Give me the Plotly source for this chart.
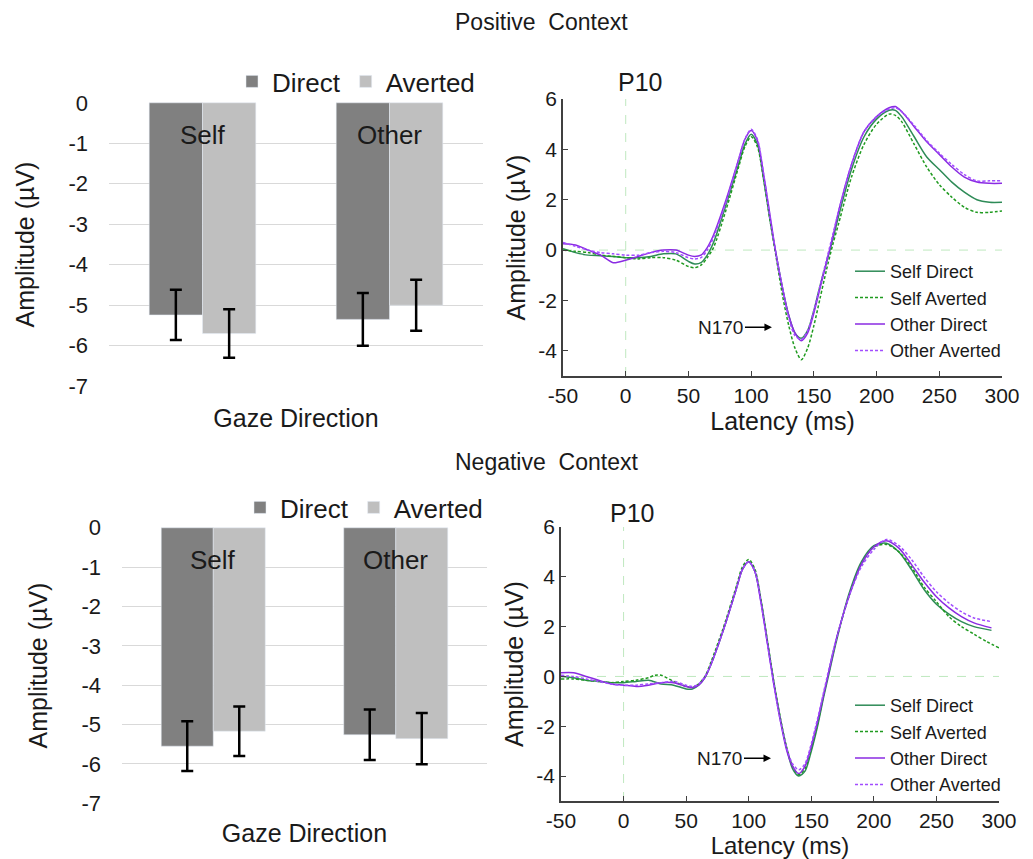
import plotly.graph_objects as go

# ---------------- Bar data ----------------
gaze_groups = ["Self", "Other"]
pos_direct = [-5.24, -5.35]
pos_direct_err = [0.62, 0.65]
pos_averted = [-5.70, -5.00]
pos_averted_err = [0.60, 0.63]

neg_direct = [-5.55, -5.26]
neg_direct_err = [0.63, 0.64]
neg_averted = [-5.17, -5.36]
neg_averted_err = [0.63, 0.65]

bar_tick_vals = [0, -1, -2, -3, -4, -5, -6, -7]
bar_tick_text = ["0", "-1", "-2", "-3", "-4", "-5", "-6", "-7"]
erp_x_tick_vals = [-50, 0, 50, 100, 150, 200, 250, 300]
erp_x_tick_text = ["-50", "0", "50", "100", "150", "200", "250", "300"]
erp_y_tick_vals = [-4, -2, 0, 2, 4, 6]
erp_y_tick_text = ["-4", "-2", "0", "2", "4", "6"]

# ---------------- ERP data (Positive context) ----------------
lat_a = [-50, -40, -30, -20, -10, 0, 10, 20, 30, 40, 50, 55, 60, 65, 70, 80, 90, 95, 100, 105,
         110, 115, 120, 125, 130, 135, 140, 145, 150, 155, 160, 165, 170, 180, 190, 200, 210,
         215, 220, 230, 240, 250, 260, 270, 280, 290, 300]
pos_self_direct = [0.05, -0.1, -0.2, -0.22, -0.25, -0.3, -0.3, -0.25, -0.15, -0.15, -0.45, -0.55,
                   -0.5, -0.2, 0.3, 1.8, 3.4, 4.2, 4.6, 4.2, 2.8, 1.2, -0.2, -1.5, -2.6, -3.3,
                   -3.5, -3.2, -2.4, -1.4, -0.5, 0.4, 1.4, 3.2, 4.5, 5.2, 5.55, 5.55, 5.3, 4.5,
                   3.7, 3.2, 2.7, 2.3, 2.0, 1.9, 1.9]
pos_self_averted = [0.0, -0.05, -0.1, -0.2, -0.25, -0.3, -0.35, -0.3, -0.3, -0.4, -0.65, -0.7,
                    -0.6, -0.3, 0.1, 1.6, 3.3, 4.1, 4.5, 4.1, 2.8, 1.2, -0.3, -1.8, -3.0, -3.9,
                    -4.35, -3.9, -3.0, -1.9, -0.8, 0.2, 1.1, 2.9, 4.2, 5.0, 5.4, 5.35, 5.1, 4.2,
                    3.3, 2.6, 2.1, 1.7, 1.5, 1.5, 1.55]
pos_other_direct = [0.25, 0.2, 0.0, -0.2, -0.5, -0.4, -0.25, -0.1, 0.0, 0.0, -0.2, -0.25,
                    -0.2, 0.1, 0.6, 2.0, 3.6, 4.4, 4.75, 4.35, 3.0, 1.4, -0.2, -1.5, -2.6, -3.3,
                    -3.6, -3.3, -2.5, -1.5, -0.5, 0.5, 1.6, 3.4, 4.7, 5.3, 5.65, 5.7, 5.5, 4.9,
                    4.3, 3.8, 3.3, 2.9, 2.7, 2.65, 2.65]
pos_other_averted = [0.3, 0.15, 0.0, -0.1, -0.15, -0.2, -0.2, -0.1, -0.05, -0.1, -0.3, -0.35,
                     -0.3, 0.0, 0.5, 1.9, 3.6, 4.4, 4.8, 4.4, 3.0, 1.3, -0.2, -1.5, -2.7, -3.4,
                     -3.55, -3.2, -2.4, -1.4, -0.4, 0.6, 1.6, 3.4, 4.7, 5.3, 5.6, 5.65, 5.5, 4.95,
                     4.35, 3.85, 3.4, 3.0, 2.75, 2.75, 2.75]

# ---------------- ERP data (Negative context) ----------------
lat_b = [-50, -40, -30, -20, -10, 0, 10, 20, 30, 40, 50, 55, 60, 65, 70, 80, 90, 95, 100, 105,
         110, 115, 120, 125, 130, 135, 140, 145, 150, 155, 160, 165, 170, 180, 190, 200, 210,
         220, 230, 240, 250, 260, 270, 280, 294]
neg_self_direct = [0.0, -0.05, -0.15, -0.2, -0.25, -0.25, -0.2, -0.15, -0.3, -0.35, -0.5, -0.5,
                   -0.35, -0.05, 0.5, 1.9, 3.5, 4.3, 4.6, 4.2, 3.0, 1.4, -0.2, -1.6, -2.8, -3.7,
                   -4.0, -3.8, -3.0, -2.0, -0.8, 0.3, 1.4, 3.3, 4.6, 5.25, 5.35, 5.0, 4.3, 3.5,
                   2.9, 2.5, 2.2, 2.0, 1.85]
neg_other_direct = [0.15, 0.15, 0.0, -0.15, -0.3, -0.35, -0.4, -0.35, -0.25, -0.25, -0.4, -0.45,
                    -0.35, -0.05, 0.5, 1.9, 3.5, 4.3, 4.6, 4.2, 2.9, 1.3, -0.3, -1.7, -2.9, -3.6,
                    -3.9, -3.6, -2.8, -1.8, -0.7, 0.4, 1.5, 3.2, 4.5, 5.2, 5.45, 5.15, 4.5, 3.8,
                    3.2, 2.75, 2.4, 2.15, 1.95]
neg_other_averted = [0.05, 0.0, -0.1, -0.2, -0.3, -0.35, -0.35, -0.3, -0.25, -0.2, -0.35, -0.4,
                     -0.3, 0.0, 0.5, 1.9, 3.5, 4.3, 4.6, 4.2, 2.9, 1.3, -0.3, -1.7, -2.8, -3.5,
                     -3.75, -3.5, -2.7, -1.7, -0.6, 0.5, 1.5, 3.2, 4.4, 5.1, 5.5, 5.25, 4.7, 4.0,
                     3.4, 2.95, 2.6, 2.35, 2.2]
lat_c = [-50, -40, -30, -20, -10, 0, 10, 20, 25, 30, 40, 50, 55, 60, 65, 70, 80, 90, 95, 100, 105,
         110, 115, 120, 125, 130, 135, 140, 145, 150, 155, 160, 165, 170, 180, 190, 200, 210,
         220, 230, 240, 250, 260, 270, 280, 290, 300]
neg_self_averted = [-0.1, -0.1, -0.15, -0.2, -0.25, -0.2, -0.15, -0.05, 0.05, 0.05, -0.2, -0.4,
                    -0.45, -0.3, 0.0, 0.6, 2.0, 3.6, 4.4, 4.7, 4.3, 3.0, 1.4, -0.2, -1.6, -2.8,
                    -3.6, -3.95, -3.7, -2.9, -1.9, -0.7, 0.4, 1.5, 3.2, 4.5, 5.2, 5.3, 5.0, 4.4,
                    3.6, 3.0, 2.4, 2.0, 1.7, 1.4, 1.15]

series_names = ["Self Direct", "Self Averted", "Other Direct", "Other Averted"]
series_colors = ["#2e8b57", "#1f9a1f", "#8a2be2", "#a24dff"]
series_dash = ["solid", "3px,2px", "solid", "3px,2px"]

FONT = "Arial, Liberation Sans, sans-serif"
TXT = "#1a1a1a"
# the page places the figure 8px from the window's top-left corner
OFF = 8
W, H = 1033 - OFF, 859 - OFF


def fx(p):
    return (p - OFF) / W


def fy(p):
    return 1 - (p - OFF) / H


def px_x(a, b):
    return [fx(a), fx(b)]


def px_y(top, bottom):
    return [fy(bottom), fy(top)]


fig = go.Figure()


def add_bars(direct, derr, averted, aerr, xa, ya, leg):
    fig.add_trace(go.Bar(x=gaze_groups, y=direct, name="Direct", marker_color="#808080",
                         error_y=dict(type="data", array=derr, color="black", thickness=2.5, width=6),
                         xaxis=xa, yaxis=ya, legend=leg))
    fig.add_trace(go.Bar(x=gaze_groups, y=averted, name="Averted", marker_color="#bfbfbf",
                         error_y=dict(type="data", array=aerr, color="black", thickness=2.5, width=6),
                         xaxis=xa, yaxis=ya, legend=leg))


add_bars(pos_direct, pos_direct_err, pos_averted, pos_averted_err, "x", "y", "legend")
add_bars(neg_direct, neg_direct_err, neg_averted, neg_averted_err, "x3", "y3", "legend2")

pos_series = [(lat_a, pos_self_direct), (lat_a, pos_self_averted),
              (lat_a, pos_other_direct), (lat_a, pos_other_averted)]
neg_series = [(lat_b, neg_self_direct), (lat_c, neg_self_averted),
              (lat_b, neg_other_direct), (lat_b, neg_other_averted)]
for (xs, ys), nm, c, d in zip(pos_series, series_names, series_colors, series_dash):
    fig.add_trace(go.Scatter(x=xs, y=ys, name=nm, mode="lines",
                             line=dict(color=c, dash=d, width=1.5, shape="spline", smoothing=0.8),
                             xaxis="x2", yaxis="y2", legend="legend3"))
for (xs, ys), nm, c, d in zip(neg_series, series_names, series_colors, series_dash):
    fig.add_trace(go.Scatter(x=xs, y=ys, name=nm, mode="lines",
                             line=dict(color=c, dash=d, width=1.5, shape="spline", smoothing=0.8),
                             xaxis="x4", yaxis="y4", legend="legend4"))


def bar_x(standoff):
    return dict(showticklabels=False, ticks="", showline=False, showgrid=False, zeroline=False,
                automargin=False,
                title=dict(text="Gaze Direction", font=dict(size=25, color=TXT, family=FONT), standoff=standoff))


def erp_x(title_size):
    return dict(range=[-50, 300], tickmode="array", tickvals=erp_x_tick_vals, ticktext=erp_x_tick_text,
                showline=True, linecolor="#404040", linewidth=1.5, automargin=False,
                ticks="inside", ticklen=5, tickcolor="#404040", showgrid=False, zeroline=False,
                tickfont=dict(size=21, color=TXT, family=FONT),
                title=dict(text="Latency (ms)", font=dict(size=title_size, color=TXT, family=FONT), standoff=0))


bar_y_common = dict(range=[-7.02, 0.02], tickmode="array", tickvals=bar_tick_vals, ticktext=bar_tick_text,
                    showgrid=True, gridcolor="#d9d9d9", gridwidth=1, automargin=False,
                    zeroline=False, showline=False, ticks="", ticklabelstandoff=20,
                    tickfont=dict(size=22, color=TXT, family=FONT),
                    title=dict(text="Amplitude (µV)", font=dict(size=25, color=TXT, family=FONT), standoff=26))

erp_y_common = dict(range=[-5, 6], tickmode="array", tickvals=erp_y_tick_vals, ticktext=erp_y_tick_text,
                    showline=True, linecolor="#404040", linewidth=1.5, automargin=False,
                    ticks="inside", ticklen=5, tickcolor="#404040", showgrid=False, zeroline=False,
                    tickfont=dict(size=21, color=TXT, family=FONT),
                    title=dict(text="Amplitude (µV)", font=dict(size=25, color=TXT, family=FONT), standoff=6))

fig.update_layout(
    width=W, height=H, margin=dict(l=0, r=0, t=0, b=0, autoexpand=False),
    paper_bgcolor="white", plot_bgcolor="white",
    font=dict(family=FONT, color=TXT),
    barmode="group", bargap=0.43, bargroupgap=0,
    xaxis=dict(domain=px_x(109, 483), anchor="y", **bar_x(22)),
    yaxis=dict(domain=px_y(102, 387), anchor="x", **bar_y_common),
    xaxis3=dict(domain=px_x(122, 487), anchor="y3", **bar_x(20)),
    yaxis3=dict(domain=px_y(527, 804), anchor="x3", **bar_y_common),
    xaxis2=dict(domain=px_x(563, 1002), anchor="y2", **erp_x(25)),
    yaxis2=dict(domain=px_y(99, 376), anchor="x2", **erp_y_common),
    xaxis4=dict(domain=px_x(561, 999), anchor="y4", **erp_x(24)),
    yaxis4=dict(domain=px_y(527, 801), anchor="x4", **erp_y_common),
    legend=dict(orientation="h", x=fx(232), y=fy(58), xanchor="left", yanchor="top",
                font=dict(size=26, color=TXT, family=FONT), bgcolor="rgba(0,0,0,0)"),
    legend2=dict(orientation="h", x=fx(240), y=fy(484), xanchor="left", yanchor="top",
                 font=dict(size=26, color=TXT, family=FONT), bgcolor="rgba(0,0,0,0)"),
    legend3=dict(x=fx(850), y=fy(253), xanchor="left", yanchor="top", tracegroupgap=0,
                 font=dict(size=18, color=TXT, family=FONT), bgcolor="rgba(0,0,0,0)"),
    legend4=dict(x=fx(850), y=fy(687), xanchor="left", yanchor="top", tracegroupgap=0,
                 font=dict(size=18, color=TXT, family=FONT), bgcolor="rgba(0,0,0,0)"),
)

for xr, yr in [("x2", "y2"), ("x4", "y4")]:
    fig.add_shape(type="line", xref=xr, yref=yr, x0=0, x1=0, y0=-5, y1=6,
                  line=dict(color="#bfe8bf", width=1, dash="dash"), layer="below")
    fig.add_shape(type="line", xref=xr, yref=yr, x0=-50, x1=300, y0=0, y1=0,
                  line=dict(color="#bfe8bf", width=1, dash="dash"), layer="below")

for xr, yr, yv in [("x", "y", -0.8), ("x3", "y3", -0.82)]:
    for g in gaze_groups:
        fig.add_annotation(x=g, y=yv, xref=xr, yref=yr, text=g, showarrow=False,
                           font=dict(size=26, color=TXT, family=FONT))

fig.add_annotation(x=116.6, y=-3.06, xref="x2", yref="y2", text="N170", showarrow=True,
                   ax=-51, ay=0, arrowhead=2, arrowsize=1, arrowwidth=1.5, arrowcolor="black",
                   font=dict(size=19, color=TXT, family=FONT))
fig.add_annotation(x=117.8, y=-3.28, xref="x4", yref="y4", text="N170", showarrow=True,
                   ax=-51, ay=0, arrowhead=2, arrowsize=1, arrowwidth=1.5, arrowcolor="black",
                   font=dict(size=19, color=TXT, family=FONT))

fig.add_annotation(x=fx(640), y=fy(82), xref="paper", yref="paper", text="P10", showarrow=False,
                   xanchor="center", yanchor="middle", font=dict(size=25, color=TXT, family=FONT))
fig.add_annotation(x=fx(632), y=fy(513), xref="paper", yref="paper", text="P10", showarrow=False,
                   xanchor="center", yanchor="middle", font=dict(size=25, color=TXT, family=FONT))

fig.add_annotation(x=fx(541), y=fy(22), xref="paper", yref="paper", text="Positive  Context",
                   showarrow=False, xanchor="center", yanchor="middle",
                   font=dict(size=23, color=TXT, family=FONT))
fig.add_annotation(x=fx(546), y=fy(462), xref="paper", yref="paper", text="Negative  Context",
                   showarrow=False, xanchor="center", yanchor="middle",
                   font=dict(size=23, color=TXT, family=FONT))

fig.write_html("out.html")
